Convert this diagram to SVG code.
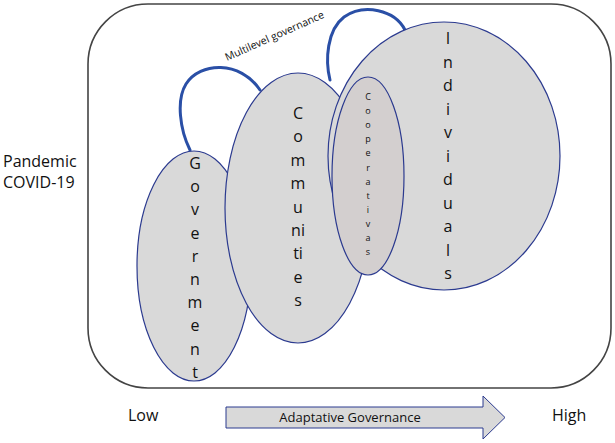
<svg xmlns="http://www.w3.org/2000/svg" width="615" height="443" viewBox="0 0 615 443">
<style>
.ell{fill:#d9d9d9;stroke:#2b3a8f;stroke-width:1.2}
.coop{fill:#d3cfcf;stroke:#2b3a8f;stroke-width:1.2}
.arc{fill:none;stroke:#2a4fa6;stroke-width:3;stroke-linecap:round}
.t{font-family:"Open Sans","Noto Sans","Liberation Sans",sans-serif;fill:#111}
.v{font-size:16px;text-anchor:middle}
</style>
<rect id="frame" x="88" y="4" width="523" height="384" rx="60" ry="60" fill="#fff" stroke="#444" stroke-width="1.6"/>
<g id="connectors">
<path class="arc" d="M190,150 C180,130 176,100 186,84 C200,62 240,60 260,90"/>
<path class="arc" d="M330,80 C325,60 327,30 344,17 C364,3 395,10 405,30"/>
</g>
<g id="government">
<ellipse class="ell" cx="194" cy="266" rx="57" ry="115"/>
<text class="t v" x="195" y="169"><tspan x="195">G</tspan><tspan x="195" dy="23.2">o</tspan><tspan x="195" dy="23.2">v</tspan><tspan x="195" dy="23.2">e</tspan><tspan x="195" dy="23.2">r</tspan><tspan x="195" dy="23.2">n</tspan><tspan x="195" dy="23.2">m</tspan><tspan x="195" dy="23.2">e</tspan><tspan x="195" dy="23.2">n</tspan><tspan x="195" dy="23.2">t</tspan></text>
</g>
<g id="communities">
<ellipse class="ell" cx="298" cy="208" rx="73" ry="135"/>
<text class="t v" x="298" y="119"><tspan x="298">C</tspan><tspan x="298" dy="23.4">o</tspan><tspan x="298" dy="23.4">m</tspan><tspan x="298" dy="23.4">m</tspan><tspan x="298" dy="23.4">u</tspan><tspan x="298" dy="23.4">ni</tspan><tspan x="298" dy="23.4">ti</tspan><tspan x="298" dy="23.4">e</tspan><tspan x="298" dy="23.4">s</tspan></text>
</g>
<g id="individuals">
<ellipse class="ell" cx="444" cy="156" rx="116" ry="134"/>
<text class="t v" x="448" y="44"><tspan x="448">I</tspan><tspan x="448" dy="23.5">n</tspan><tspan x="448" dy="23.5">d</tspan><tspan x="448" dy="23.5">i</tspan><tspan x="448" dy="23.5">v</tspan><tspan x="448" dy="23.5">i</tspan><tspan x="448" dy="23.5">d</tspan><tspan x="448" dy="23.5">u</tspan><tspan x="448" dy="23.5">a</tspan><tspan x="448" dy="23.5">l</tspan><tspan x="448" dy="23.5">s</tspan></text>
</g>
<g id="cooperativas">
<ellipse class="coop" cx="368" cy="176" rx="36" ry="99"/>
<text class="t" x="368" y="100" font-size="9" text-anchor="middle"><tspan x="368">C</tspan><tspan x="368" dy="14.1">o</tspan><tspan x="368" dy="14.1">o</tspan><tspan x="368" dy="14.1">p</tspan><tspan x="368" dy="14.1">e</tspan><tspan x="368" dy="14.1">r</tspan><tspan x="368" dy="14.1">a</tspan><tspan x="368" dy="14.1">t</tspan><tspan x="368" dy="14.1">i</tspan><tspan x="368" dy="14.1">v</tspan><tspan x="368" dy="14.1">a</tspan><tspan x="368" dy="14.1">s</tspan></text>
</g>
<g id="multilevel-label">
<text class="t" x="0" y="0" font-size="10.5" transform="translate(227,61) rotate(-24)">Multilevel governance</text>
</g>
<g id="pandemic">
<text class="t" x="3" y="167" font-size="16">Pandemic</text>
<text class="t" x="3" y="188" font-size="16">COVID-19</text>
</g>
<g id="low"><text class="t" x="128" y="421" font-size="16">Low</text></g>
<g id="high"><text class="t" x="552" y="421" font-size="16">High</text></g>
<g id="adaptative-arrow">
<path d="M226,407 L483,407 L483,396 L505,417.5 L483,439 L483,428 L226,428 Z" fill="#d9d9d9" stroke="#2b3a8f" stroke-width="1"/>
<text class="t" x="350" y="422" font-size="13" text-anchor="middle">Adaptative Governance</text>
</g>
</svg>
